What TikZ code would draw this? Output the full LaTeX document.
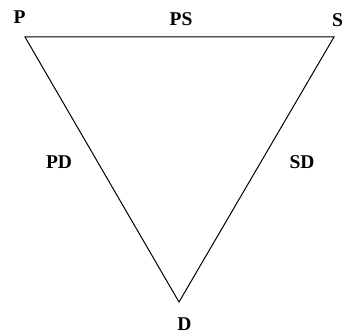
\documentclass[tikz,border=0pt]{standalone}
\usepackage{fontspec}
\setmainfont{Liberation Serif}

\tikzset{
  lbl/.style={inner sep=0pt, font=\bfseries\fontsize{19.5}{19.5}\selectfont},
  edge/.style={black, line width=1pt}
}

\begin{document}
\begin{tikzpicture}[x=1pt, y=-1pt]

  \useasboundingbox (0, 0) rectangle (344, 334);

  \coordinate (p) at (25, 37);
  \coordinate (s) at (334, 37);
  \coordinate (d) at (179, 302);

  \draw[edge, line join=miter] (p) -- (s) -- (d) -- cycle;

  \node[lbl] (lp) at (19.5, 17) {P};
  \node[lbl] (lps) at (181, 19.5) {PS};
  \node[lbl] (ls) at (337.5, 20) {S};
  \node[lbl] (lpd) at (59, 162) {PD};
  \node[lbl] (lsd) at (302, 162) {SD};
  \node[lbl] (ld) at (184.5, 324) {D};

\end{tikzpicture}
\end{document}
